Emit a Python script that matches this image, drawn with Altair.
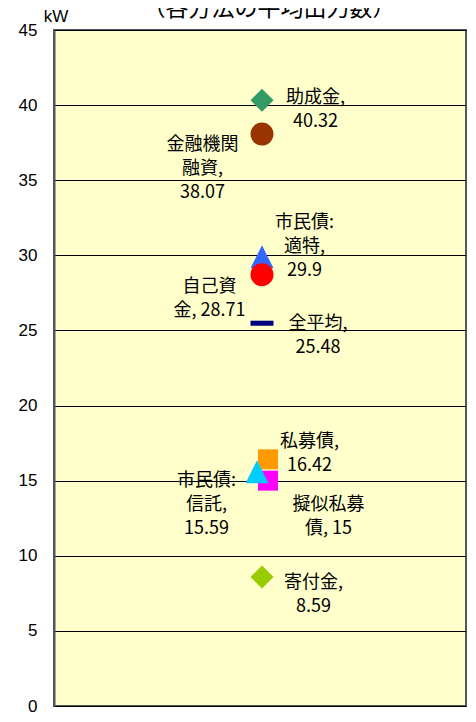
import altair as alt
import pandas as pd

# ---- data ----
categories = ["助成金", "金融機関融資", "市民債:適特", "自己資金", "全平均",
              "私募債", "擬似私募債", "市民債:信託", "寄付金"]
values = [40.32, 38.07, 29.9, 28.71, 25.48, 16.42, 15.0, 15.59, 8.59]
label_texts = ["助成金,\n40.32", "金融機関\n融資,\n38.07", "市民債:\n適特,\n29.9",
               "自己資\n金, 28.71", "全平均,\n25.48", "私募債,\n16.42",
               "擬似私募\n債, 15", "市民債:\n信託,\n15.59", "寄付金,\n8.59"]
y_ticks = [0, 5, 10, 15, 20, 25, 30, 35, 40, 45]
chart_title = "（各方法の平均出力数）"
unit_label = "kW"

df = pd.DataFrame({"category": categories, "value": values, "label": label_texts})
df["group"] = "平均"

# ---- styles (per category) ----
TRI = "M0,-1L1,1L-1,1Z"
DASH = "M-1,-0.22L1,-0.22L1,0.22L-1,0.22Z"
styles = {
    "助成金":     dict(shape="diamond", color="#339966", size=529, xo=2),
    "金融機関融資": dict(shape="circle", color="#993300", size=529, xo=2),
    "市民債:適特":  dict(shape=TRI, color="#3366FF", size=529, xo=2),
    "自己資金":    dict(shape="circle", color="#FF0000", size=529, xo=2),
    "全平均":     dict(shape=DASH, color="#000080", size=529, xo=2),
    "私募債":     dict(shape="square", color="#FF9900", size=400, xo=8),
    "擬似私募債":   dict(shape="square", color="#FF00FF", size=400, xo=8),
    "市民債:信託":  dict(shape=TRI, color="#00CCFF", size=529, xo=-3),
    "寄付金":     dict(shape="diamond", color="#99CC00", size=529, xo=2),
}
# (dx, dy of first text line) relative to the plot's centre line and the value
label_pos = {
    "助成金": (55.5, -2.5),
    "金融機関融資": (-57.5, 11),
    "市民債:適特": (44.5, -34),
    "自己資金": (-50.5, 12.5),
    "全平均": (58, 1),
    "私募債": (49.5, -17),
    "擬似私募債": (68.5, 24),
    "市民債:信託": (-53.5, 9),
    "寄付金": (53.5, 6),
}

FONT = "Noto Sans CJK JP"

x_enc = alt.X("group:N", axis=None)
y_enc = alt.Y(
    "value:Q",
    scale=alt.Scale(domain=[0, 45], nice=False),
    axis=alt.Axis(
        values=y_ticks, grid=True, gridColor="#000000", gridWidth=1,
        ticks=False, tickSize=0, labelPadding=17, labelFontSize=17,
        labelFont="Liberation Sans", labelColor="#000000",
        domain=True, domainColor="#555555", domainWidth=2,
        title=unit_label, titleAngle=0, titleX=1.5, titleY=-14,
        titleAlign="center", titleBaseline="middle", titleFontSize=17,
        titleFont="Liberation Sans", titleFontWeight="normal", titleColor="#000000",
    ),
)

base = alt.Chart(df)
layers = []
for cat in categories:
    s = styles[cat]
    layers.append(
        base.transform_filter(alt.datum.category == cat)
        .mark_point(shape=s["shape"], filled=True, opacity=1, color=s["color"],
                    size=s["size"], xOffset=s["xo"], strokeWidth=0)
        .encode(x=x_enc, y=y_enc)
    )
for cat in categories:
    dx, dy = label_pos[cat]
    layers.append(
        base.transform_filter(alt.datum.category == cat)
        .mark_text(font=FONT, fontSize=18, color="#000000", align="center",
                   baseline="middle", lineBreak="\n", lineHeight=24, dx=dx, dy=dy)
        .encode(x=x_enc, y=y_enc, text="label:N")
    )

title_layer = alt.Chart(pd.DataFrame({"t": [chart_title]})).mark_text(
    font=FONT, fontSize=23, color="#000000", align="center", baseline="alphabetic"
).encode(x=alt.value(215), y=alt.value(-14), text="t:N")
layers.append(title_layer)

chart = alt.layer(*layers).properties(
    width=412, height=676,
    autosize=alt.AutoSizeParams(type="none"),
    padding={"left": 46, "top": 22, "right": 2, "bottom": 8},
    background="#FFFFFF",
).configure_view(
    fill="#FFFFCC", stroke="#555555", strokeWidth=2
)

chart.save("out.html", embed_options={"renderer": "svg", "actions": False})
